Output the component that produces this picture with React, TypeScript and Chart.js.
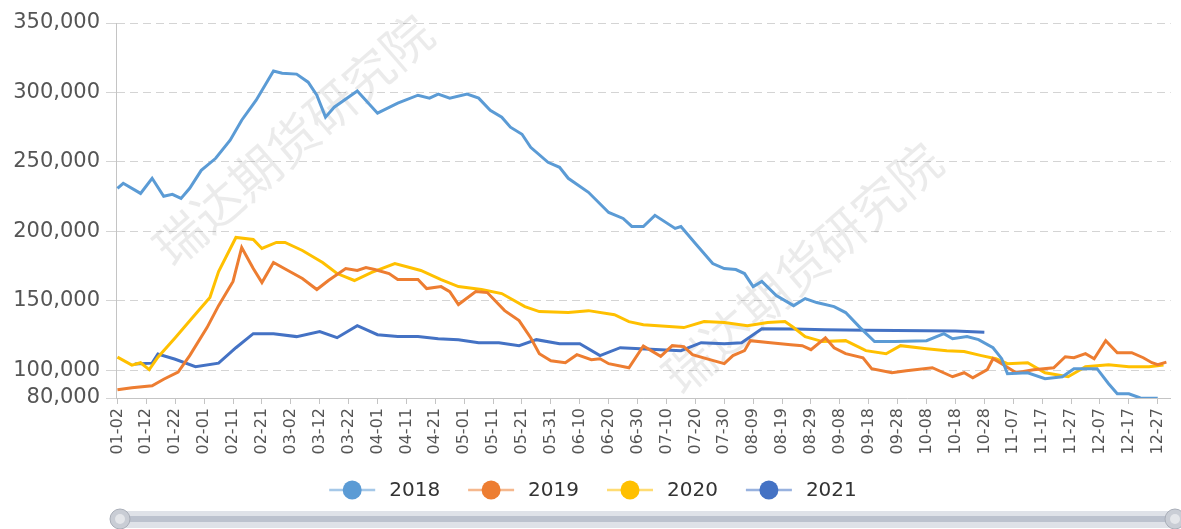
import React, { useEffect, useRef } from 'react';
import { Chart, registerables } from 'chart.js';

Chart.register(...registerables);

// ---- categories: daily MM-DD (calendar incl. 02-29), 01-02 .. 12-31
const MONTH_DAYS = [31, 29, 31, 30, 31, 30, 31, 31, 30, 31, 30, 31];
const pad2 = (n: number) => String(n).padStart(2, '0');
const categories: string[] = [];
MONTH_DAYS.forEach((days, m) => {
  for (let d = 1; d <= days; d++) {
    if (m === 0 && d === 1) continue;
    categories.push(`${pad2(m + 1)}-${pad2(d)}`);
  }
});
const LABEL_EVERY = 10;

const yTicks = [80000, 100000, 150000, 200000, 250000, 300000, 350000];

const seriesNames = ['2018', '2019', '2020', '2021'];
const seriesColors = ['#5B9BD5', '#ED7D31', '#FFC000', '#4472C4'];

const s2018: [string, number][] = [
  ['01-02', 231000], ['01-04', 234600], ['01-10', 227300], ['01-14', 238200], ['01-18', 225200],
  ['01-21', 226600], ['01-24', 223700], ['01-27', 231000], ['01-31', 243900], ['02-05', 252600],
  ['02-10', 265600], ['02-14', 280000], ['02-19', 294400], ['02-25', 315400], ['02-28', 313900],
  ['03-04', 313200], ['03-08', 307400], ['03-11', 298000], ['03-14', 282200], ['03-17', 289400],
  ['03-25', 301000], ['04-01', 285100], ['04-08', 292300], ['04-15', 298000], ['04-19', 295900],
  ['04-22', 298800], ['04-26', 295900], ['05-02', 298800], ['05-06', 295900], ['05-10', 287200],
  ['05-14', 282200], ['05-17', 275000], ['05-21', 269900], ['05-24', 260500], ['05-30', 249700],
  ['06-03', 246100], ['06-06', 238200], ['06-13', 228100], ['06-20', 213600], ['06-25', 209300],
  ['06-28', 203500], ['07-02', 203500], ['07-06', 211500], ['07-13', 202100], ['07-15', 203500],
  ['07-20', 191300], ['07-26', 176800], ['07-30', 173200], ['08-03', 172500], ['08-06', 169600],
  ['08-09', 160200], ['08-12', 163900], ['08-17', 153800], ['08-23', 146500], ['08-27', 151600],
  ['08-31', 148700], ['09-06', 145800], ['09-10', 141500], ['09-15', 130700], ['09-20', 120600],
  ['09-27', 120600], ['10-08', 121300], ['10-14', 126300], ['10-17', 122700], ['10-22', 124200],
  ['10-26', 122000], ['10-31', 116200], ['11-03', 108300], ['11-05', 97500], ['11-12', 98200],
  ['11-18', 93900], ['11-24', 95300], ['11-28', 101100], ['12-06', 101100], ['12-10', 90300],
  ['12-13', 83000], ['12-17', 83000], ['12-21', 80000], ['12-27', 79800],
];

const s2019: [string, number][] = [
  ['01-02', 85900], ['01-07', 87400], ['01-14', 88800], ['01-18', 93500], ['01-23', 98600],
  ['01-27', 110500], ['02-02', 130700], ['02-06', 146500], ['02-11', 163900], ['02-14', 188400],
  ['02-18', 173200], ['02-21', 163100], ['02-25', 177600], ['03-01', 171800], ['03-06', 166000],
  ['03-11', 158100], ['03-15', 164600], ['03-21', 173200], ['03-25', 171800], ['03-28', 173900],
  ['03-31', 172500], ['04-05', 169600], ['04-08', 165300], ['04-15', 165300], ['04-18', 158800],
  ['04-23', 160200], ['04-26', 156600], ['04-29', 147300], ['05-05', 156600], ['05-09', 155900],
  ['05-15', 142900], ['05-20', 135700], ['05-24', 123400], ['05-27', 111900], ['05-31', 106800],
  ['06-05', 105400], ['06-09', 111200], ['06-14', 107600], ['06-17', 108300], ['06-20', 104700],
  ['06-27', 101800], ['07-02', 117500], ['07-08', 110000], ['07-12', 117700], ['07-16', 117000],
  ['07-19', 111200], ['07-25', 107600], ['07-30', 104700], ['08-02', 110500], ['08-06', 114100],
  ['08-08', 121300], ['08-15', 119800], ['08-22', 118400], ['08-26', 117700], ['08-29', 114800],
  ['09-03', 123400], ['09-06', 116200], ['09-10', 111900], ['09-16', 109000], ['09-19', 101100],
  ['09-26', 98200], ['10-01', 99600], ['10-10', 101800], ['10-17', 95300], ['10-21', 98200],
  ['10-24', 94600], ['10-29', 100400], ['10-31', 108300], ['11-03', 104700], ['11-08', 98200],
  ['11-14', 100400], ['11-21', 101800], ['11-25', 109700], ['11-28', 109000], ['12-02', 111900],
  ['12-05', 108300], ['12-09', 121300], ['12-13', 112600], ['12-18', 112600], ['12-22', 109000],
  ['12-25', 105400], ['12-27', 104000], ['12-30', 105800],
];

const s2020: [string, number][] = [
  ['01-02', 109400], ['01-07', 103700], ['01-10', 105400], ['01-13', 100400], ['01-16', 109400],
  ['01-22', 123400], ['01-28', 137900], ['02-03', 152300], ['02-06', 171100], ['02-12', 195600],
  ['02-18', 194200], ['02-21', 187700], ['02-26', 192000], ['02-29', 192000], ['03-06', 186200],
  ['03-13', 177600], ['03-18', 169600], ['03-24', 164600], ['03-30', 170400], ['04-07', 176800],
  ['04-16', 171800], ['04-23', 165300], ['04-29', 160200], ['05-07', 158100], ['05-14', 155200],
  ['05-22', 145800], ['05-27', 142200], ['06-06', 141500], ['06-13', 142900], ['06-22', 140000],
  ['06-27', 135000], ['07-02', 132800], ['07-16', 130700], ['07-23', 135000], ['07-30', 134300],
  ['08-07', 132100], ['08-14', 134300], ['08-20', 135000], ['08-23', 130700], ['08-27', 124200],
  ['09-02', 120600], ['09-10', 121300], ['09-17', 114100], ['09-24', 111900], ['09-29', 117700],
  ['10-08', 115500], ['10-15', 114100], ['10-21', 113400], ['10-27', 110500], ['11-01', 108300],
  ['11-05', 104700], ['11-12', 105400], ['11-18', 98200], ['11-26', 95300], ['12-02', 102500],
  ['12-10', 104000], ['12-17', 102500], ['12-24', 102500], ['12-29', 103700],
];

const s2021: [string, number][] = [
  ['01-08', 104400], ['01-14', 105100], ['01-16', 111600], ['01-22', 107900], ['01-29', 102500],
  ['02-06', 105100], ['02-12', 116200], ['02-18', 126300], ['02-25', 126300], ['03-04', 124200],
  ['03-12', 127800], ['03-18', 123400], ['03-25', 132100], ['04-01', 125600], ['04-08', 124200],
  ['04-15', 124200], ['04-22', 122700], ['04-29', 122000], ['05-06', 119800], ['05-13', 119800],
  ['05-20', 117700], ['05-26', 122000], ['06-03', 119100], ['06-10', 119100], ['06-17', 110500],
  ['06-24', 116200], ['07-01', 115500], ['07-08', 114800], ['07-15', 114100], ['07-22', 119800],
  ['07-30', 119100], ['08-05', 119800], ['08-12', 129900], ['08-23', 129600], ['09-03', 129200],
  ['09-17', 128800], ['10-08', 128500], ['10-18', 128300], ['10-28', 127300],
];

const allSeries = [s2018, s2019, s2020, s2021];
const WATERMARK = '瑞达期货研究院';
const FONT = '"DejaVu Sans", "Noto Sans", sans-serif';

const decorPlugin = {
  id: 'decor',
  beforeDatasetsDraw(chart: any) {
    const ctx = chart.ctx as CanvasRenderingContext2D;
    ctx.save();
    ctx.font = '50px "Noto Sans CJK SC"';
    ctx.fillStyle = 'rgba(0,0,0,0.08)';
    ctx.textAlign = 'center';
    ctx.textBaseline = 'middle';
    const spots = [[293, 140], [802, 268]];
    for (const [x, y] of spots) {
      ctx.save();
      ctx.translate(x, y);
      ctx.rotate((-41 * Math.PI) / 180);
      ctx.fillText(WATERMARK, 0, 0);
      ctx.restore();
    }
    ctx.restore();
  },
  afterDraw(chart: any) {
    const ctx = chart.ctx as CanvasRenderingContext2D;
    ctx.save();
    // legend
    ctx.font = `20px ${FONT}`;
    ctx.textBaseline = 'middle';
    const iconW = 46, gapIT = 14, gapItems = 28;
    const widths = seriesNames.map((n) => iconW + gapIT + ctx.measureText(n).width);
    const total = widths.reduce((a, b) => a + b, 0) + gapItems * (widths.length - 1);
    let x = 593 - total / 2;
    const ly = 490;
    seriesNames.forEach((name, i) => {
      const c = seriesColors[i];
      ctx.globalAlpha = 0.55;
      ctx.strokeStyle = c;
      ctx.lineWidth = 2.5;
      ctx.beginPath();
      ctx.moveTo(x, ly);
      ctx.lineTo(x + iconW, ly);
      ctx.stroke();
      ctx.globalAlpha = 1;
      ctx.fillStyle = c;
      ctx.beginPath();
      ctx.arc(x + iconW / 2, ly, 9.5, 0, Math.PI * 2);
      ctx.fill();
      ctx.fillStyle = '#333';
      ctx.textAlign = 'left';
      ctx.fillText(name, x + iconW + gapIT, ly + 1);
      x += widths[i] + gapItems;
    });
    // data zoom slider
    ctx.fillStyle = '#dfe2e8';
    ctx.beginPath();
    ctx.roundRect(110, 511, 1090, 17, 8);
    ctx.fill();
    ctx.fillStyle = '#bcc2ce';
    ctx.fillRect(118, 516, 1060, 6);
    for (const hx of [120, 1175]) {
      ctx.fillStyle = '#c9cdd5';
      ctx.strokeStyle = '#a9aeb8';
      ctx.lineWidth = 1;
      ctx.beginPath();
      ctx.arc(hx, 519, 10, 0, Math.PI * 2);
      ctx.fill();
      ctx.stroke();
      ctx.fillStyle = '#e4e6ea';
      ctx.beginPath();
      ctx.arc(hx, 519, 5, 0, Math.PI * 2);
      ctx.fill();
    }
    ctx.restore();
  },
};

export default function App() {
  const ref = useRef<HTMLCanvasElement | null>(null);
  useEffect(() => {
    if (!ref.current) return;
    const chart = new Chart(ref.current, {
      type: 'line',
      data: {
        labels: categories,
        datasets: allSeries.map((s, i) => ({
          label: seriesNames[i],
          data: s.map(([d, v]) => ({ x: d, y: v })),
          borderColor: seriesColors[i],
          backgroundColor: seriesColors[i],
          borderWidth: 3,
          pointRadius: 0,
          tension: 0,
          fill: false,
        })),
      },
      options: {
        responsive: false,
        animation: false,
        devicePixelRatio: 1,
        layout: { padding: { top: 23, right: 6, left: 0, bottom: 0 } },
        plugins: { legend: { display: false }, tooltip: { enabled: false } },
        scales: {
          x: {
            type: 'category',
            offset: true,
            grid: { display: true, drawOnChartArea: false, drawTicks: true, tickLength: 6, color: '#c4c4c4' },
            border: { display: true, color: '#c4c4c4', width: 1 },
            ticks: {
              autoSkip: false,
              maxRotation: 90,
              minRotation: 90,
              padding: 4,
              color: '#555',
              font: { family: FONT, size: 16 },
              callback: (_v: any, i: number) => (i % LABEL_EVERY === 0 ? categories[i] : null),
            },
            afterFit: (s: any) => { s.height = 131; },
          },
          y: {
            min: 80000,
            max: 350000,
            afterBuildTicks: (s: any) => { s.ticks = yTicks.map((v) => ({ value: v })); },
            grid: { color: '#d4d4d4', tickLength: 10, lineWidth: 1 },
            border: { display: true, color: '#c4c4c4', dash: [8, 5] },
            ticks: {
              padding: 6,
              color: '#555',
              font: { family: FONT, size: 21 },
              callback: (v: any) => Number(v).toLocaleString('en-US'),
            },
            afterFit: (s: any) => { s.width = 116; },
          },
        },
      } as any,
      plugins: [decorPlugin],
    });
    return () => chart.destroy();
  }, []);
  return (
    <div style={{ position: 'fixed', left: 0, top: 0, width: 1181, height: 529, background: '#fff' }}>
      <canvas ref={ref} width={1181} height={529} style={{ display: 'block' }} />
    </div>
  );
}
